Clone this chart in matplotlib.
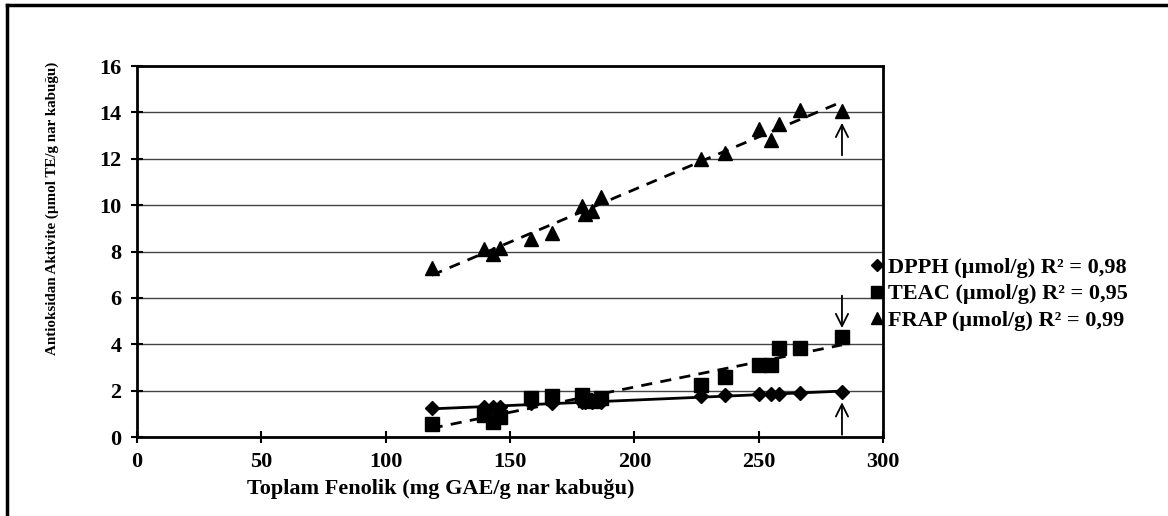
import matplotlib.pyplot as plt
from matplotlib.lines import Line2D
import numpy as np

plt.rcParams['font.family'] = ['Liberation Serif', 'DejaVu Serif']
plt.rcParams['font.weight'] = 'bold'

# toplam fenolik (x) values shared by all series
fenolik = [118.5, 139.5, 143, 146, 158.5, 167, 179, 180, 183, 186.5,
           227, 236.5, 250, 255, 258, 266.5, 283.5]
dpph = [1.25, 1.3, 1.3, 1.3, 1.45, 1.45, 1.5, 1.5, 1.5, 1.5,
        1.75, 1.8, 1.85, 1.85, 1.85, 1.9, 1.95]
teac = [0.55, 0.95, 0.65, 0.85, 1.7, 1.75, 1.8, 1.6, 1.55, 1.7,
        2.25, 2.6, 3.1, 3.1, 3.85, 3.85, 4.3]
frap = [7.3, 8.1, 7.9, 8.15, 8.55, 8.8, 9.95, 9.6, 9.75, 10.35,
        12.0, 12.25, 13.3, 12.8, 13.5, 14.1, 14.05]

labels = ['DPPH (µmol/g) R² = 0,98', 'TEAC (µmol/g) R² = 0,95', 'FRAP (µmol/g) R² = 0,99']
markers = ['D', 's', '^']
msizes = [7, 10, 9.5]
trend_ls = ['-', '--', '--']

# arrows marking the last sample (tail, head)
arrows = [(12.15, 13.55), (6.1, 4.7), (0.1, 1.5)]

fig = plt.figure(figsize=(11.68, 5.16), dpi=100)
ax = fig.add_axes([0.1173, 0.153, 0.6387, 0.719])

x = np.array(fenolik)
for y, m, ms, ls in zip([dpph, teac, frap], markers, msizes, trend_ls):
    ax.plot(fenolik, y, linestyle='none', marker=m, color='black', markersize=ms, zorder=3)
    k, b = np.polyfit(x, y, 1)
    xs = np.array([x.min(), x.max()])
    ax.plot(xs, k * xs + b, color='black', linestyle=ls, linewidth=2,
            dashes=(4, 3) if ls == '--' else (None, None), zorder=2)

for tail, head in arrows:
    ax.annotate('', xy=(fenolik[-1], head), xytext=(fenolik[-1], tail),
                arrowprops=dict(arrowstyle='->', color='black', lw=1.3,
                                mutation_scale=22, shrinkA=0, shrinkB=0))

ax.set_xlim(0, 300)
ax.set_ylim(0, 16)
ax.set_xticks(range(0, 301, 50))
ax.set_yticks(range(0, 17, 2))
ax.yaxis.grid(True, color='#444444', linewidth=1)
ax.set_axisbelow(True)
for s in ax.spines.values():
    s.set_linewidth(2)
ax.tick_params(direction='inout', length=8, width=1.5, labelsize=16, pad=7)

fig.text(441 / 1168, 1 - 489 / 516, 'Toplam Fenolik (mg GAE/g nar kabuğu)',
         fontsize=16, fontweight='bold', ha='center', va='center')
fig.text(52 / 1168, 1 - 208 / 516, 'Antioksidan Aktivite (µmol TE/g nar kabuğu)',
         fontsize=10.8, fontweight='bold', ha='center', va='center', rotation=90)

handles = [Line2D([], [], linestyle='none', marker=m, color='black', markersize=ms * 0.9)
           for m, ms in zip(markers, msizes)]
fig.legend(handles, labels, loc='center left', bbox_to_anchor=(0.746, 0.43),
           frameon=False, handlelength=0.5, handletextpad=0.25, borderpad=0,
           borderaxespad=0, labelspacing=0.28, prop={'weight': 'bold', 'size': 16})

# outer frame (top and left only, as in the cropped picture)
fig.add_artist(Line2D([0.006, 1.0], [0.991, 0.991], color='black', lw=2.5, transform=fig.transFigure))
fig.add_artist(Line2D([0.006, 0.006], [0.0, 0.991], color='black', lw=2.5, transform=fig.transFigure))

fig.savefig('out.png', dpi=100)
